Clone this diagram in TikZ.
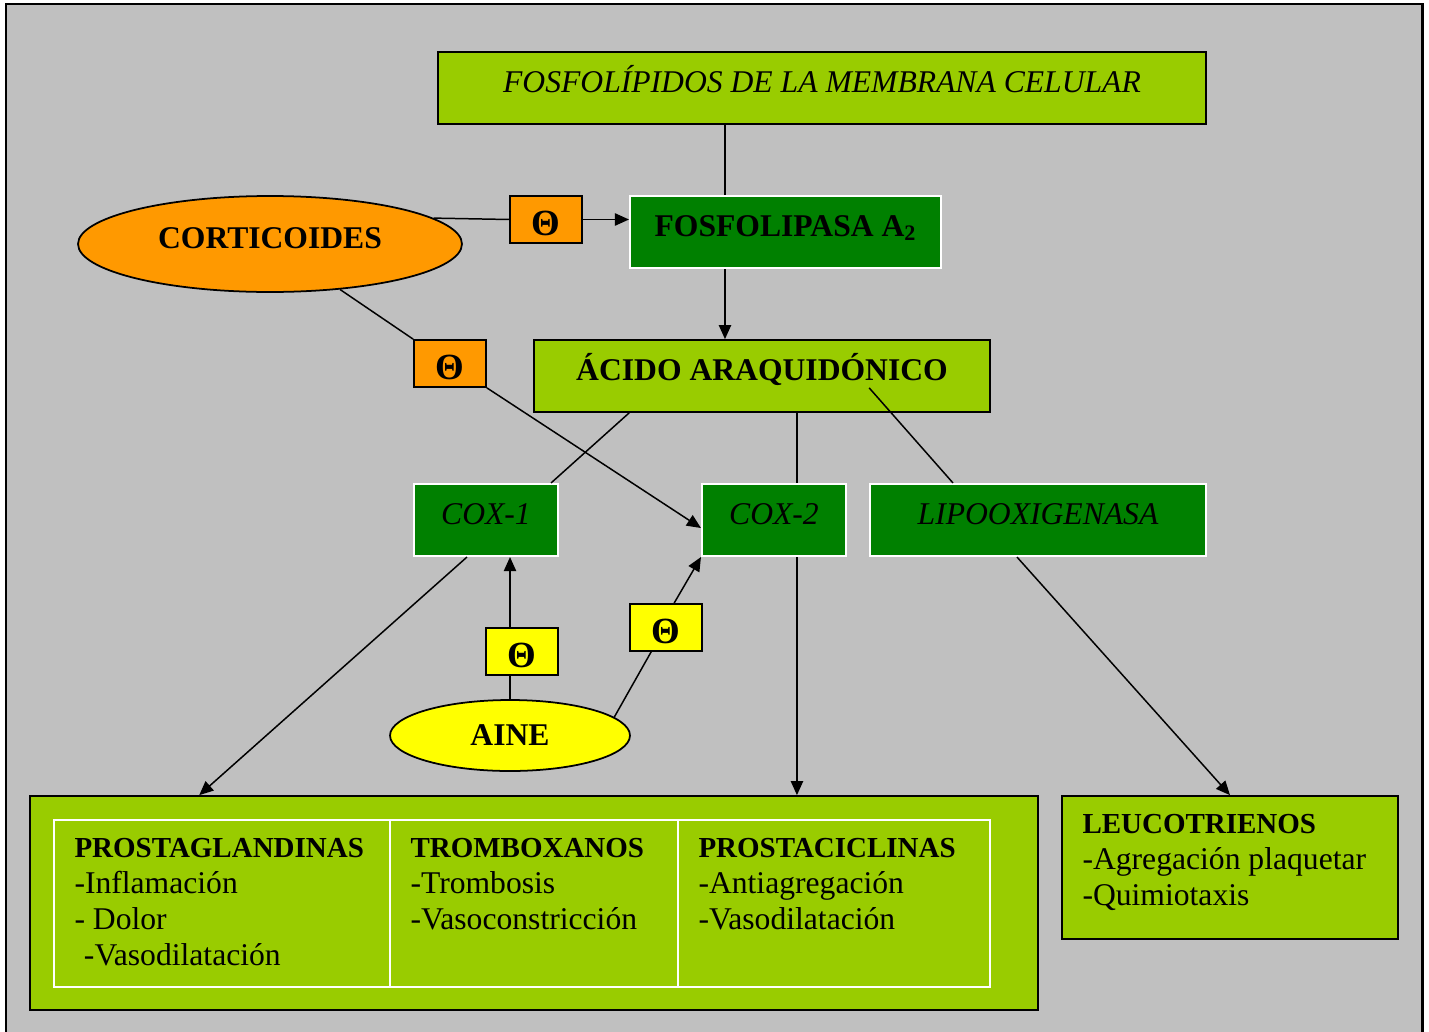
\documentclass[tikz,border=0pt]{standalone}
\usepackage{fontspec}
\setmainfont{Liberation Serif}
\usetikzlibrary{positioning,arrows.meta,calc,shapes.geometric}
\definecolor{cLime}{HTML}{99CC00}
\definecolor{cDark}{HTML}{008000}
\definecolor{cOrange}{HTML}{FF9900}
\definecolor{cYellow}{HTML}{FFFF00}
\definecolor{cGray}{HTML}{C0C0C0}
\newcommand{\cellhead}[1]{{\fontsize{16.5}{20.5}\selectfont\bfseries #1}}

\begin{document}
\begin{tikzpicture}[x=0.02cm,y=-0.02cm,
      lbox/.style={rectangle,fill=cLime,draw=black,line width=1pt,inner sep=0pt,
                   text height=12pt,text depth=7pt},
      gbox/.style={rectangle,fill=cDark,draw=white,line width=1.2pt,inner sep=0pt,
                   minimum height=1.44cm,text height=12pt,text depth=7pt},
      inh/.style={rectangle,draw=black,line width=1pt,minimum width=1.44cm,minimum height=0.94cm,
                  inner sep=0pt,text height=18pt,text depth=0pt,font=\bfseries\fontsize{21}{21}\selectfont},
      oval/.style={ellipse,draw=black,line width=1pt,inner sep=0pt,
                   font=\bfseries\fontsize{18}{18}\selectfont},
      cell/.style={rectangle,draw=white,line width=1pt,minimum height=3.34cm,inner sep=0pt},
      lab/.style={anchor=north west,align=left,inner sep=0pt,font=\fontsize{18}{20.5}\selectfont},
      lnk/.style={line width=0.85pt},
      arr/.style={-{Triangle[length=8pt,width=7pt]}}]
    \useasboundingbox (0,0) rectangle (1429,1031);
    \fill[cGray] (6,4) rectangle (1422,1040);
    \draw[line width=1.7pt] (6,1040) -- (6,4) -- (1422,4) -- (1422,1040);
    \node[lbox,minimum width=15.36cm,minimum height=1.44cm,font=\itshape\fontsize{18}{18}\selectfont]
      (memb) at (822,88) {FOSFOLÍPIDOS DE LA MEMBRANA CELULAR};
    \node[gbox,minimum width=6.22cm,font=\bfseries\fontsize{18}{18}\selectfont]
      (fla) at (785.5,232) {FOSFOLIPASA A\textsubscript{2}};
    \node[oval,fill=cOrange,minimum width=7.68cm,minimum height=1.92cm,text height=12pt,text depth=7pt]
      (cort) at (270,244) {CORTICOIDES};
    \node[inh,fill=cOrange] (inh1) at (546,219.5) {Θ};
    \node[lbox,minimum width=9.12cm,minimum height=1.44cm,font=\bfseries\fontsize{18}{18}\selectfont]
      (acido) at (762,376) {ÁCIDO ARAQUIDÓNICO};
    \node[inh,fill=cOrange] (inh2) at (450,363.5) {Θ};
    \node[gbox,minimum width=2.88cm,font=\itshape\fontsize{18}{18}\selectfont] (cox1) at (486,520) {COX-1};
    \node[gbox,minimum width=2.88cm,font=\itshape\fontsize{18}{18}\selectfont] (cox2) at (774,520) {COX-2};
    \node[gbox,minimum width=6.72cm,font=\itshape\fontsize{18}{18}\selectfont] (lipo) at (1038,520) {LIPOOXIGENASA};
    \node[oval,fill=cYellow,minimum width=4.8cm,minimum height=1.42cm] (aine) at (510,735.5) {AINE};
    \node[inh,fill=cYellow] (inh3) at (522,651.5) {Θ};
    \node[inh,fill=cYellow] (inh4) at (666,627.5) {Θ};
    \node[lbox,minimum width=20.16cm,minimum height=4.28cm] (prod) at (534,903) {};
    \node[cell,minimum width=6.72cm] (pg) at (222,903.5) {};
    \node[cell,minimum width=5.76cm] (tx) at (534,903.5) {};
    \node[cell,minimum width=6.24cm] (pc) at (834,903.5) {};
    \node[lbox,minimum width=6.72cm,minimum height=2.86cm] (leuco) at (1230,867.5) {};
    \node[lab] (pgt) at ($(pg.north west)+(21,19)$)
      {\cellhead{PROSTAGLANDINAS}\\-Inflamación\\- Dolor\\\hspace*{0.3em}-Vasodilatación};
    \node[lab] (txt) at ($(tx.north west)+(21,19)$)
      {\cellhead{TROMBOXANOS}\\-Trombosis\\-Vasoconstricción};
    \node[lab] (pct) at ($(pc.north west)+(21,19)$)
      {\cellhead{PROSTACICLINAS}\\-Antiagregación\\-Vasodilatación};
    \node[lab] (lct) at ($(leuco.north west)+(21,19)$)
      {\cellhead{LEUCOTRIENOS}\\-Agregación plaquetar\\-Quimiotaxis};
    \draw[lnk] ($(fla.north west)+(96,0)$) coordinate (c1) -- (c1 |- memb.south);
    \draw[lnk,arr] ($(fla.south west)+(96,0)$) coordinate (c2) -- (c2 |- acido.north);
    \draw[lnk] (cort.9) -- (inh1.west);
    \draw[lnk,arr] (inh1.east) -- (inh1.east -| fla.west);
    \draw[lnk] (cort.-33.5) -- (inh2.north west);
    \draw[lnk,arr] (inh2.south east) -- ($(cox2.west)+(0,8)$);
    \draw[lnk] ($(acido.south west)+(96,0)$) -- ($(cox1.north east)+(-8,0)$);
    \draw[lnk] ($(acido.south west)+(264,0)$) coordinate (c3) -- (c3 |- cox2.north);
    \draw[lnk] ($(acido.south west)+(336,-25)$) -- ($(lipo.north west)+(84,0)$);
    \draw[lnk,arr] ($(cox1.south west)+(54,0)$) -- ($(prod.north west)+(170,0)$);
    \draw[lnk,arr] ($(cox2.south west)+(96,0)$) coordinate (c4) -- (c4 |- prod.north);
    \draw[lnk,arr] ($(lipo.south west)+(148,0)$) -- (leuco.north);
    \draw[lnk] (aine.north) -- (aine.north |- inh3.south);
    \draw[lnk,arr] (aine.north |- inh3.north) -- (aine.north |- cox1.south);
    \draw[lnk] (aine.10) -- ($(inh4.south west)+(22,0)$);
    \draw[lnk,arr] ($(inh4.north west)+(45,0)$) -- (cox2.south west);
  \end{tikzpicture}
\end{document}
